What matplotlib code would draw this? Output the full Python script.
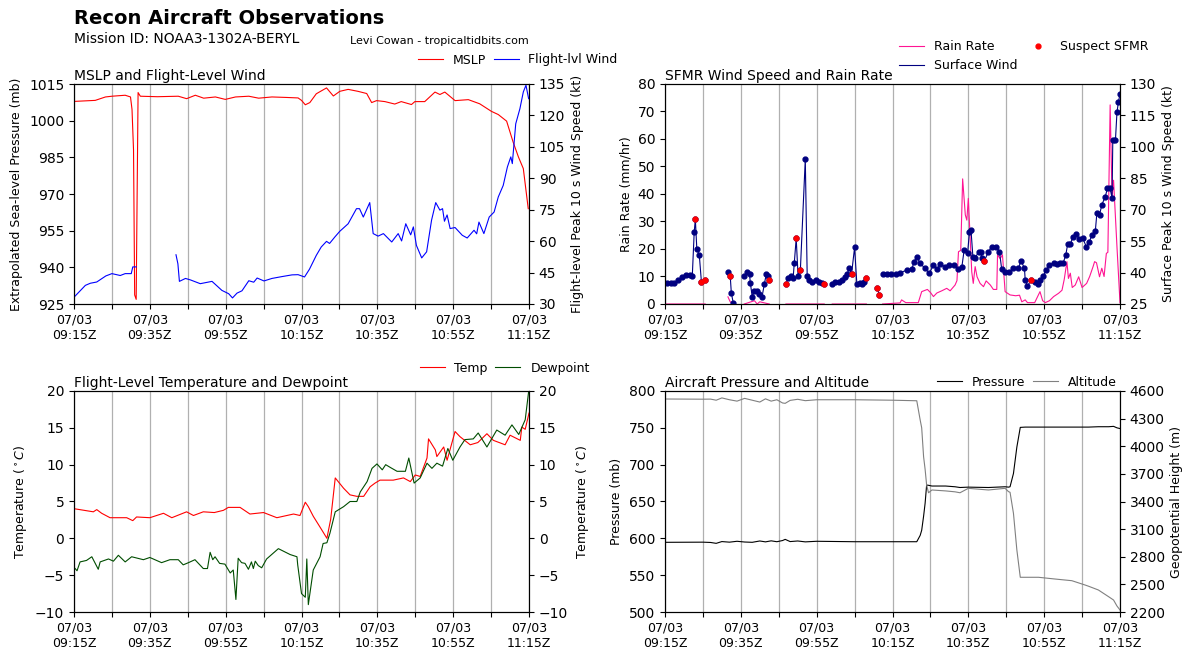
import numpy as np
import matplotlib
matplotlib.use("Agg")
import matplotlib.pyplot as plt
from matplotlib.lines import Line2D

nan = np.nan

# time axis: minutes after 09:15Z on 07/03
# --- MSLP and flight-level wind ---
mslp_t = [0.3, 5.6, 8.3, 10, 13.5, 14.9, 15.3, 15.7, 16.0, 16.4, 16.6, 16.9, 17.5, 22, 27.5, 29.7,
          32, 34.2, 37.3, 39.9, 42.6, 46.1, 48.7, 52.2, 56, 59.1, 60, 61, 62.2, 63.9, 66.6, 68.4,
          70.1, 72.3, 74.9, 77.2, 78.5, 79.8, 82, 84.6, 86.3, 89, 89.9, 92.5, 95.2, 96.5, 97.8,
          100.5, 104, 107, 110.1, 111.9, 114.1, 115.8, 117.2, 118.5, 119.8]
mslp = [1007.9, 1008.3, 1009.7, 1010, 1010.4, 1009.7, 1004.6, 988, 928.7, 926.9, 961.4, 1011.5,
        1010, 1009.8, 1010, 1009, 1010.4, 1009.2, 1009.7, 1008.7, 1009.7, 1010, 1009.2, 1009.7,
        1009.5, 1009.3, 1008.3, 1006.5, 1007.4, 1011, 1013.4, 1010.1, 1012, 1012.8, 1012, 1011.1,
        1007.4, 1008.2, 1007.8, 1006.8, 1007.8, 1006.6, 1007.8, 1007.8, 1011.7, 1010.7, 1011.7,
        1008.2, 1008.6, 1006.9, 1003.8, 1002.5, 999.8, 991.3, 985.2, 980.4, 964]

flwind_t = [0.3, 3, 4.3, 6, 8.4, 10, 12.2, 13.5, 15.1, 15.5, 16.4, 21, 26.9, 27.4, 27.8, 29.4,
            30.7, 33.3, 36.4, 39, 40.8, 41.8, 43, 44.3, 46.1, 47.4, 48.3, 50.1, 52.2, 54.9, 57.5,
            59.1, 60.8, 62.1, 63.9, 65.2, 66.6, 67.4, 68.8, 70.1, 72.3, 74.5, 75.3, 76.3, 78,
            78.9, 80.2, 81.6, 83.8, 85.5, 86.4, 87.5, 88.8, 89.5, 90.3, 91.7, 93, 94.3, 95.4,
            96.5, 97.2, 97.7, 98.4, 99.2, 100.5, 102.4, 103.7, 105.5, 106.2, 106.8, 108.1, 109.5,
            110.8, 111.9, 113.2, 114.3, 115.2, 115.6, 116.5, 117.6, 118.5, 119.2, 119.9]
flwind = [33.8, 38.9, 39.9, 40.5, 43.4, 44.5, 43.6, 44.5, 44.5, 47.7, 47.7, nan, 53.5, 49.2,
          40.8, 42.2, 41.5, 39.7, 40.8, 36.5, 34.9, 32.9, 35.2, 36.3, 41.1, 40.4, 42.4, 41,
          42.2, 43.1, 43.9, 44, 42.9, 46.6, 53.2, 57.2, 59.9, 58.9, 62, 64.7, 68.3, 75.5, 75.5,
          71.5, 78.4, 63.6, 62.4, 63.6, 59.6, 63.6, 60.1, 68.3, 63, 66.8, 58, 52, 54.9, 70,
          78.4, 74.8, 75.5, 69.5, 72.5, 66, 66.5, 62.8, 61.5, 65.2, 63.5, 69.1, 63.6, 71.5,
          73.9, 81.1, 86.6, 95.4, 100.2, 97, 116, 123.2, 131.2, 134.4, 128]

# --- SFMR surface wind and rain rate ---
sfmr_t = [0.4, 1.5, 2.5, 3.5, 4.5, 5.5, 6.6, 7.2, 7.7, 8.0, 8.4, 9.05, 9.6, 10.6, nan,
          16.7, 17.2, 17.5, 18.0, nan,
          20.9, 21.7, 22.3, 22.5, 23.0, 23.6, 24.3, 24.9, 25.6, 26.2, 26.7, 27.2, 27.5, nan,
          31.9, 32.5, 33.1, 33.8, 34.1, 34.6, 35.1, 35.7, 37.0, 37.5, 38.1, 38.8, 39.7, 40.5,
          41.3, 42.0, nan,
          44.1, 44.8, 45.8, 46.7, 47.4, 48.0, 48.6, 49.2, 50.0, 50.6, 51.3, 52.0, 52.4, 53.1, nan,
          56.0, 56.5, nan,
          57.4, 58.5, 59.5, 60.8, 62.0, 63.8, 65.1, 65.7, 66.4, 67.3, 68.6, 69.7, 70.8, 71.7,
          72.6, 73.9, 75.0, 76.2, 77.4, 78.3, 78.9, 79.8, 80.3, 80.7, 81.2, 81.8, 82.7, 83.3,
          83.6, 84.2, 85.3, 86.2, 87.3, 88.2, 88.8, 89.7, 90.8, 91.9, 93.2, 93.9, 94.8, 95.0,
          95.6, 96.6, 97.6, 98.3, 98.9, 99.8, 100.5, 101.4, 102.5, 103.3, 104.2, 105.0, 105.7,
          106.2, 106.9, 107.6, 108.4, 109.3, 110.2, 111.1, 111.9, 112.6, 113.5, 113.9, 114.6,
          115.2, 116.1, 116.7, 117.4, 117.9, 118.1, 118.8, 119.2, 119.6, 120.0]
sfmr_wind = [34.9, 34.9, 35.2, 36.3, 37.7, 38.8, 38.8, 38.4, 59.2, 65.4, 51.1, 48.3, 35.6, 36.3, nan,
             40.1, 38.4, 30.1, 25.6, nan,
             38.4, 40.1, 39.2, 35.2, 28.5, 31.4, 31.4, 29.8, 28.5, 34.5, 39.2, 38.4, 36.5, nan,
             34.5, 37.6, 38.5, 37.6, 44.7, 56.3, 38.4, 41.2, 94.2, 38.4, 36.5, 35.6, 36.5, 35.6,
             35.2, 34.5, nan,
             34.5, 35.6, 35.6, 36.5, 37.7, 39.3, 42.0, 39.3, 52.0, 34.5, 35.2, 34.5, 35.6, 37.6, nan,
             32.6, 29.3, nan,
             39.2, 39.2, 39.2, 39.2, 39.9, 41.2, 41.7, 45.2, 47.6, 44.4, 42.0, 39.6, 43.6, 41.5,
             43.9, 42.8, 43.6, 43.6, 41.6, 42.8, 50.8, 49.2, 59.5, 60.3, 47.6, 46.8, 50.0, 50.0,
             46.8, 45.5, 50.0, 52.4, 52.4, 50.0, 41.7, 40.4, 40.4, 42.0, 42.0, 45.7, 42.0, 36.5,
             33.6, 36.5, 35.6, 34.5, 36.5, 38.4, 41.2, 43.6, 44.7, 44.2, 44.7, 44.5, 48.4,
             53.6, 53.6, 57.1, 58.4, 55.9, 56.3, 52.4, 54.7, 57.9, 60.0, 68.3, 67.5,
             72.3, 76.2, 80.2, 80.2, 75.4, 103.3, 103.3, 116.5, 121.6, 125.2]
sfmr_suspect = [0, 0, 0, 0, 0, 0, 0, 0, 0, 1, 0, 0, 1, 1, 0,
                0, 1, 0, 0, 0,
                0, 0, 0, 0, 0, 0, 0, 0, 0, 0, 0, 0, 1, 0,
                1, 0, 0, 0, 0, 1, 0, 1, 0, 0, 0, 0, 0, 0,
                0, 1, 0,
                0, 0, 0, 0, 0, 0, 0, 1, 0, 0, 0, 0, 0, 1, 0,
                1, 1, 0,
                0, 0, 0, 0, 0, 0, 0, 0, 0, 0, 0, 0, 0, 0,
                0, 0, 0, 0, 0, 0, 0, 0, 0, 0, 0, 0, 0, 0,
                0, 1, 0, 0, 0, 0, 0, 0, 0, 0, 0, 0, 0, 0,
                0, 1, 0, 0, 0, 0, 0, 0, 0, 0, 0, 0, 0,
                0, 0, 0, 0, 0, 0, 0, 0, 0, 0, 0, 0,
                0, 0, 0, 0, 0, 0, 0, 0, 0, 0]

rain_t = [0.4, 10.6, nan, 16.6, 17.2, 18.0, nan, 20.9, 23.6, 24.3, 25.0, 27.5, nan, 31.9, 42.0, nan,
          44.1, 53.1, nan, 57.4, 62.0, 62.4, 63.5, 66.8, 67.7, 69.2, 70.0, 70.8, 71.7, 73.0, 74.3,
          75.2, 76.5, 77.0, 77.4, 78.0, 78.5, 79.2, 79.6, 80.0, 80.5, 80.9, 81.3, 81.8, 82.3,
          83.1, 84.0, 84.7, 85.8, 86.6, 87.5, 87.7, 88.4, 89.0, 89.7, 91.0, 92.5, 93.5, 94.1,
          95.0, 95.6, 97.5, 98.9, 99.6, 100.3, 101.4, 102.5, 103.8, 104.7, 105.3, 106.0, 106.4,
          106.9, 107.4, 108.2, 109.1, 110.0, 111.2, 112.0, 112.9, 113.3, 113.8, 114.6, 115.2,
          115.8, 116.4, 116.8, 117.4, 117.9, 118.3, 119.2, 120.0]
rain = [0, 0, nan, 2.6, 0.8, 0, nan, 0, 1.2, 0, 0.8, 0, nan, 0, 0, nan,
        0, 0, nan, 0, 0.4, 1.5, 0.5, 0.5, 4.5, 5.3, 4.2, 2.7, 4.0, 4.8, 5.7,
        4.8, 6.9, 8.5, 19.0, 19.5, 45.5, 32.4, 30.5, 38.4, 23.3, 11.7, 7.5, 13.6, 9.9,
        7.5, 6.3, 8.4, 6.9, 5.3, 5.3, 17.8, 16.5, 17.9, 4.5, 3.3, 3.0, 3.2, 0.8,
        1.5, 0.5, 0.5, 4.5, 1.2, 0.5, 1.2, 2.7, 3.9, 5.0, 9.0, 15.4, 9.3,
        11.2, 6.0, 6.9, 9.9, 6.0, 7.5, 10.0, 13.6, 15.4, 15.0, 9.9, 13.0,
        10.0, 18.4, 18.8, 72.4, 39.0, 45.0, 20.8, 0.5]

# --- temperature and dewpoint ---
temp_t = [0.3, 5.1, 6.0, 7.3, 9.5, 13.9, 15.5, 16.5, 20, 23.6, 25.8, 29.7, 31.5, 34.1, 37,
          39.4, 40.7, 43.8, 46.4, 50, 53.5, 57.9, 59.6, 61, 61.8, 63.1, 65.4, 66.7, 67.7, 68.9,
          71.1, 72.8, 74.6, 76.4, 78.1, 79.4, 80.7, 84.2, 86.9, 88.7, 90, 91.3, 93.1, 93.5,
          95.3, 95.7, 97.5, 98.4, 100.5, 101.8, 104.5, 106.5, 108.9, 110.6, 113.7, 115, 117.7,
          118.1, 119, 120]
temp = [4.0, 3.6, 3.9, 3.4, 2.8, 2.8, 2.4, 2.9, 2.8, 3.4, 2.8, 3.6, 3.1, 3.6, 3.5,
        3.8, 4.2, 4.2, 3.3, 3.5, 2.8, 3.3, 3.1, 4.9, 4.3, 3.0, 1.1, 0.0, 2.6, 8.2,
        6.8, 5.9, 5.7, 5.7, 7.0, 7.5, 7.9, 7.9, 8.2, 7.7, 8.6, 8.4, 10.9, 13.5,
        12.0, 11.1, 12.4, 10.6, 14.5, 13.8, 12.7, 13.0, 14.2, 13.3, 12.7, 14.0, 13.3,
        15.1, 14.8, 17.0]

dewp_t = [0.3, 0.8, 1.6, 3.3, 4.7, 6.4, 6.9, 9.1, 10.4, 11.7, 13.5, 15.2, 18.3, 20, 23.1,
          25.3, 27.5, 28.8, 30.2, 31.9, 34.1, 35.2, 35.9, 36.6, 37.2, 38.4, 39.8, 41.2, 42,
          42.7, 43.3, 44.2, 45.1, 46, 46.8, 47.3, 47.8, 48.6, 49.5, 50.8, 53.9, 57, 58.8, 59,
          60, 61, 61.4, 61.8, 63.1, 64.9, 65.7, 66.7, 67.5, 68.9, 71.1, 72.8, 74.6, 75.5, 77.3,
          78.6, 79.9, 81.3, 82.2, 83.5, 85.2, 87.4, 88.3, 89.7, 91.3, 93.1, 94.4, 95.7, 97.2,
          98.6, 99.9, 101.8, 103.1, 105.3, 106.6, 108.9, 111.5, 113.7, 115.5, 117.3, 119, 119.9]
dewp = [-4.1, -4.4, -3.2, -3.0, -2.5, -4.2, -3.2, -2.8, -3.1, -2.3, -3.2, -2.5, -2.9, -2.6, -3.3,
        -2.9, -2.9, -3.6, -3.3, -2.9, -4.1, -4.1, -1.9, -2.9, -2.5, -3.4, -3.5, -4.7, -4.3,
        -8.3, -2.7, -3.3, -3.4, -4.2, -3.2, -4.1, -3.1, -3.7, -4.0, -2.8, -1.4, -2.2, -2.5, -3.6,
        -7.5, -8.0, -2.8, -9.0, -4.3, -2.5, -0.7, -0.6, 0.7, 3.6, 4.3, 5.0, 5.0, 6.3, 7.7,
        9.5, 10.1, 9.3, 10.0, 9.6, 9.1, 9.1, 10.9, 7.5, 8.2, 10.2, 9.5, 10.2, 9.8,
        12.2, 10.6, 12.4, 13.4, 13.5, 14.3, 12.4, 14.7, 14.0, 15.4, 14.1, 16.1, 19.9]

# --- aircraft pressure and altitude ---
acft_t = [0.4, 10, 12, 13.5, 15, 17, 19, 21, 23, 25, 26.5, 28, 29.5, 31, 31.7, 33, 35, 37, 40,
          50, 60, 66.4, 67.3, 67.7, 68.2, 68.6, 69.0, 69.5, 70.4, 74, 76.5, 77.8, 80, 85.3,
          89.7, 90.6, 91.0, 91.9, 92.8, 93.7, 95, 98.5, 102.9, 107.3, 110.8, 111.7, 114.3,
          117, 118.3, 119.2, 120]
acft_p = [594.6, 594.8, 594.4, 593.2, 595.6, 594.8, 596.0, 595.0, 594.6, 596.4, 595.2, 596.6,
          595.4, 597.0, 598.6, 595.6, 596.4, 595.2, 596.0, 595.4, 595.4, 595.4, 604, 611, 630,
          647.5, 672.3, 672, 671, 671, 670, 669, 669.5, 669, 670, 669.5, 670, 688, 724, 750.6,
          751, 751, 751, 751, 751, 751, 751.5, 751.5, 752, 750, 749]
acft_alt = [4513, 4511, 4512, 4500, 4525, 4505, 4490, 4520, 4500, 4480, 4515, 4490, 4505, 4470,
            4466, 4498, 4510, 4495, 4505, 4505, 4500, 4494, 4285, 4200, 3886, 3750, 3579, 3495,
            3525, 3515, 3505, 3495, 3543, 3525, 3543, 3507, 3500, 3272, 2873, 2577, 2577, 2577,
            2558, 2540, 2493, 2480, 2439, 2366, 2330, 2265, 2222]

W, H = 1193, 659


def box(x0, y0, x1, y1):
    return [x0 / W, 1 - y1 / H, (x1 - x0) / W, (y1 - y0) / H]


def time_axis(ax):
    ticks = list(range(0, 121, 10))
    labels = []
    for m in ticks:
        if m % 20 == 0:
            hh, mm = divmod(9 * 60 + 15 + m, 60)
            labels.append("07/03\n%02d:%02dZ" % (hh, mm))
        else:
            labels.append("")
    ax.set_xticks(ticks)
    ax.set_xticklabels(labels, fontsize=9)
    ax.set_xlim(0, 120)
    ax.grid(axis="x", color="#b0b0b0", lw=0.9)


def top_legend(ax, handles, right, ymid, **kw):
    ax.legend(handles=handles, ncol=2, frameon=False, fontsize=9, loc="center right",
              bbox_to_anchor=(right / W, 1 - ymid / H), bbox_transform=fig.transFigure, **kw)


fig = plt.figure(figsize=(W / 100, H / 100), dpi=100)
fig.text(74 / W, 1 - 19 / H, "Recon Aircraft Observations", fontsize=14, fontweight="bold",
         va="center", ha="left")
fig.text(74 / W, 1 - 39 / H, "Mission ID: NOAA3-1302A-BERYL", fontsize=10, va="center", ha="left")
fig.text(529 / W, 1 - 41 / H, "Levi Cowan - tropicaltidbits.com", fontsize=8, va="center", ha="right")

lw = 0.8

# MSLP and flight-level wind
ax1 = fig.add_axes(box(74, 84, 529, 304))
time_axis(ax1)
l1, = ax1.plot(mslp_t, mslp, color="red", lw=lw, label="MSLP")
ax1.set_ylim(925, 1015)
ax1.set_yticks(range(925, 1016, 15))
ax1.set_ylabel("Extrapolated Sea-level Pressure (mb)", fontsize=9)
ax1.set_title("MSLP and Flight-Level Wind", loc="left", fontsize=10, pad=3)
ax1b = ax1.twinx()
l2, = ax1b.plot(flwind_t, flwind, color="blue", lw=lw, label="Flight-lvl Wind")
ax1b.set_ylim(30, 135)
ax1b.set_yticks(range(30, 136, 15))
ax1b.set_ylabel("Flight-level Peak 10 s Wind Speed (kt)", fontsize=9)
top_legend(ax1, [l1, l2], 629, 60, columnspacing=0.6, handletextpad=0.8)

# SFMR
ax2 = fig.add_axes(box(665, 84, 1120, 304))
time_axis(ax2)
l3, = ax2.plot(rain_t, rain, color="#ff1493", lw=lw, label="Rain Rate")
ax2.set_ylim(0, 80)
ax2.set_yticks(range(0, 81, 10))
ax2.set_ylabel("Rain Rate (mm/hr)", fontsize=9)
ax2.set_title("SFMR Wind Speed and Rain Rate", loc="left", fontsize=10, pad=3)
ax2b = ax2.twinx()
st = np.array(sfmr_t, dtype=float)
sw = np.array(sfmr_wind, dtype=float)
sf = np.array(sfmr_suspect, dtype=bool)
ax2b.plot(st, sw, color="navy", lw=lw, marker="o", ms=3.5)
ax2b.plot(st[sf], sw[sf], "o", color="red", ms=3.5)
ax2b.set_ylim(25, 130)
ax2b.set_yticks(range(25, 131, 15))
ax2b.set_ylabel("Surface Peak 10 s Wind Speed (kt)", fontsize=9)
h4 = Line2D([], [], color="navy", lw=lw, label="Surface Wind")
h5 = Line2D([], [], color="red", ls="none", marker="o", ms=3.5, label="Suspect SFMR")
top_legend(ax2, [l3, h4, h5], 1160, 56, columnspacing=0.6)

# temperature and dewpoint
ax3 = fig.add_axes(box(74, 391, 529, 612))
time_axis(ax3)
l6, = ax3.plot(temp_t, temp, color="red", lw=lw, label="Temp")
l7, = ax3.plot(dewp_t, dewp, color="#004d00", lw=lw, label="Dewpoint")
ax3.set_ylim(-10, 20)
ax3.set_yticks(range(-10, 21, 5))
ax3.set_ylabel("Temperature ($^\\circ C$)", fontsize=9)
ax3.set_title("Flight-Level Temperature and Dewpoint", loc="left", fontsize=10, pad=3)
ax3b = ax3.twinx()
ax3b.set_ylim(-10, 20)
ax3b.set_yticks(range(-10, 21, 5))
ax3b.set_ylabel("Temperature ($^\\circ C$)", fontsize=9)
top_legend(ax3, [l6, l7], 601, 368, columnspacing=0.6, handletextpad=0.8)

# aircraft pressure and altitude
ax4 = fig.add_axes(box(665, 391, 1120, 612))
time_axis(ax4)
l8, = ax4.plot(acft_t, acft_p, color="black", lw=lw, label="Pressure")
ax4.set_ylim(500, 800)
ax4.set_yticks(range(500, 801, 50))
ax4.set_ylabel("Pressure (mb)", fontsize=9)
ax4.set_title("Aircraft Pressure and Altitude", loc="left", fontsize=10, pad=3)
ax4b = ax4.twinx()
l9, = ax4b.plot(acft_t, acft_alt, color="gray", lw=lw, label="Altitude")
ax4b.set_ylim(2200, 4600)
ax4b.set_yticks(range(2200, 4601, 300))
ax4b.set_ylabel("Geopotential Height (m)", fontsize=9)
top_legend(ax4, [l8, l9], 1128, 382, columnspacing=0.6, handletextpad=0.8)

fig.savefig("out.png", dpi=100)
